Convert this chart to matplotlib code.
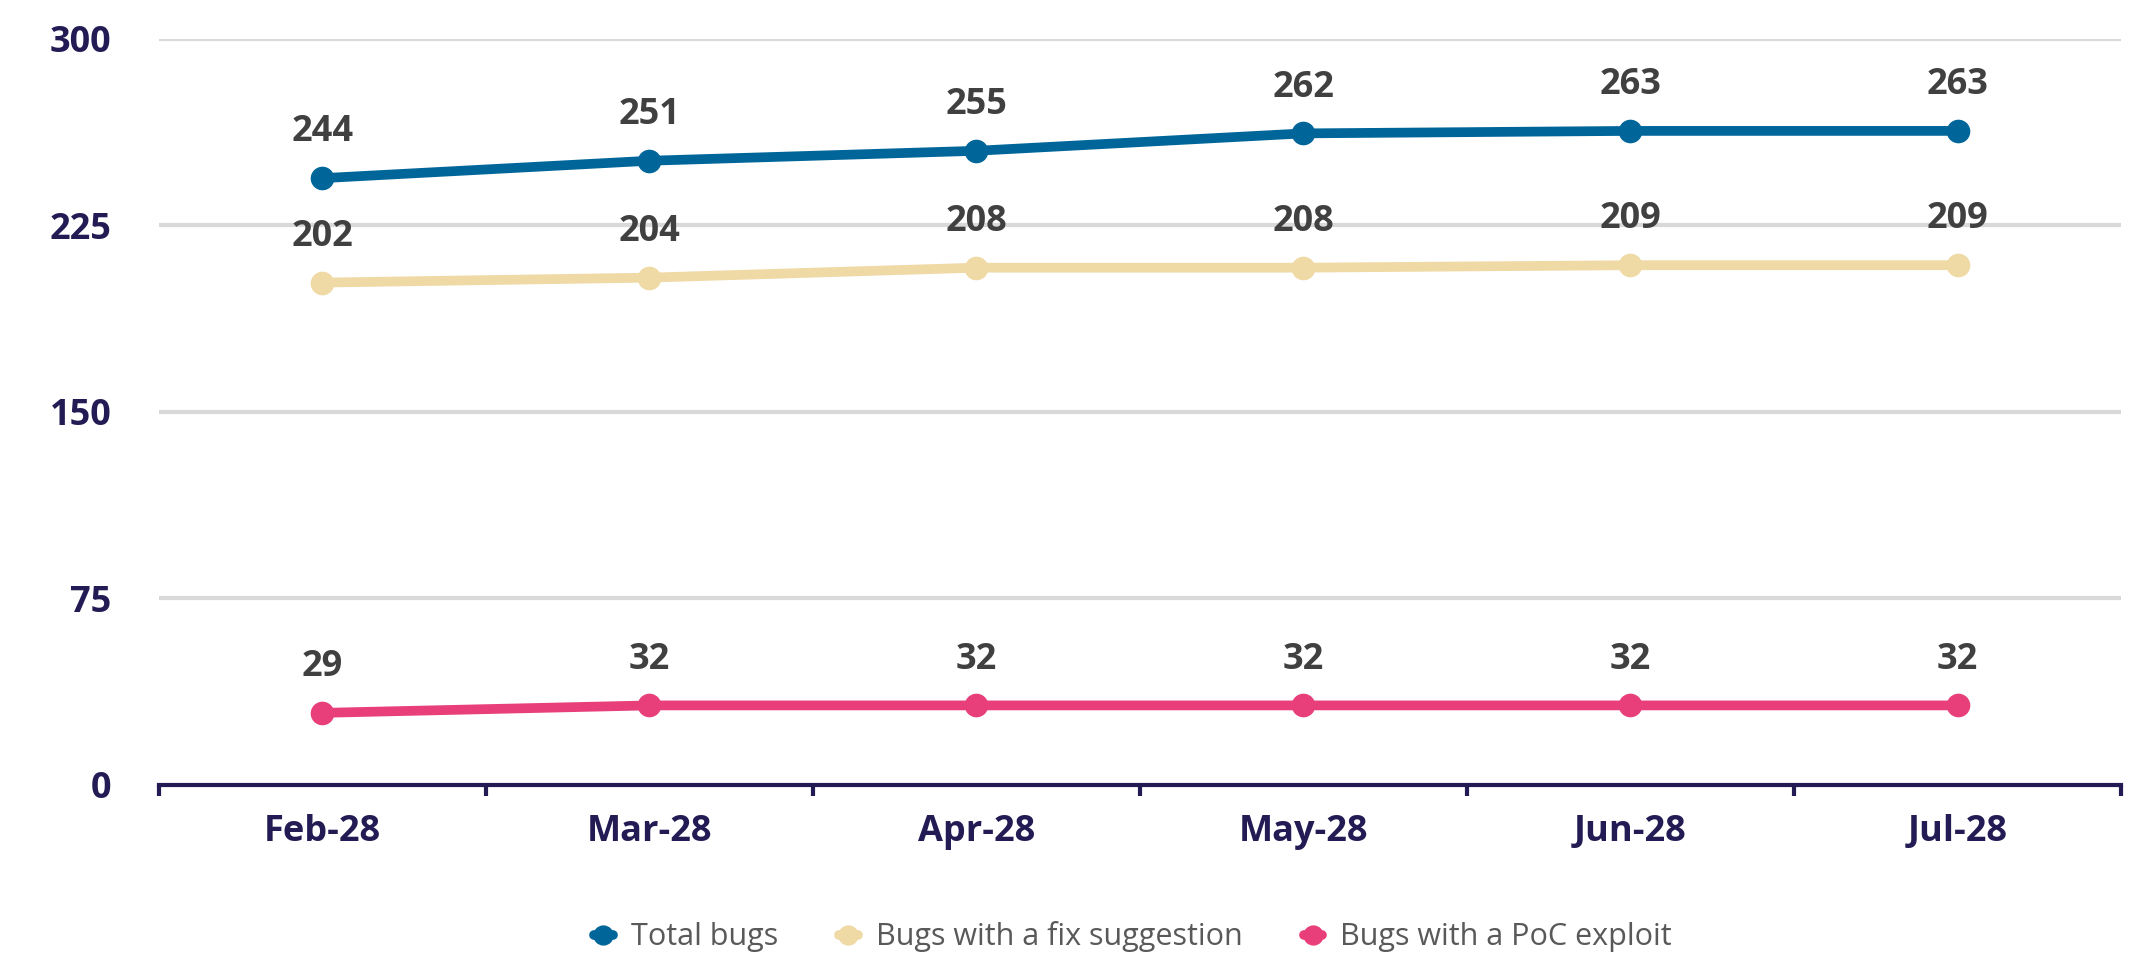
import matplotlib.pyplot as plt
from matplotlib.ticker import FixedLocator

plt.rcParams['font.family'] = ['Open Sans', 'DejaVu Sans']

months = ["Feb-28", "Mar-28", "Apr-28", "May-28", "Jun-28", "Jul-28"]
total_bugs = [244, 251, 255, 262, 263, 263]
fix_suggestion = [202, 204, 208, 208, 209, 209]
poc_exploit = [29, 32, 32, 32, 32, 32]
y_ticks = [0, 75, 150, 225, 300]

series = [
    ("Total bugs", total_bugs, "#00669a"),
    ("Bugs with a fix suggestion", fix_suggestion, "#efd9a4"),
    ("Bugs with a PoC exploit", poc_exploit, "#e83e7a"),
]

navy = "#231c54"
label_grey = "#404040"

fig = plt.figure(figsize=(21.42, 9.72), dpi=100)
ax = fig.add_axes([0.0742, 0.1924, 0.916, 0.7676])

x = list(range(len(months)))
for name, vals, color in series:
    ax.plot(x, vals, color=color, lw=7, marker="o", ms=16, label=name,
            solid_capstyle="round", zorder=3)
    for xi, v in zip(x, vals):
        ax.annotate(str(v), (xi, v), xytext=(0, 33), textcoords="offset points",
                    ha="center", va="center", fontsize=26, fontweight="bold",
                    color=label_grey, zorder=4)

ax.set_xlim(-0.5, len(months) - 0.5)
ax.set_ylim(0, 300)
ax.set_yticks(y_ticks)
ax.set_yticklabels([str(t) for t in y_ticks])
ax.set_xticks(x)
ax.set_xticklabels(months)
ax.xaxis.set_minor_locator(FixedLocator([i - 0.5 for i in range(len(months) + 1)]))

for t in y_ticks[1:]:
    ax.axhline(t, color="#d9d9d9", lw=3, zorder=1)

for s in ["top", "right", "left"]:
    ax.spines[s].set_visible(False)
ax.spines["bottom"].set_color(navy)
ax.spines["bottom"].set_linewidth(3)

ax.tick_params(axis="y", length=0, pad=34, labelsize=26, labelcolor=navy)
ax.tick_params(axis="x", which="major", length=0, pad=21, labelsize=26, labelcolor=navy)
ax.tick_params(axis="x", which="minor", length=8, width=3, color=navy)
for lbl in ax.get_xticklabels() + ax.get_yticklabels():
    lbl.set_fontweight("bold")

fig.legend(loc="lower center", bbox_to_anchor=(0.529, -0.008), ncol=3, frameon=False,
           fontsize=22, labelcolor="#595959", handlelength=0.6, handletextpad=0.6,
           columnspacing=2.0, markerscale=0.85)

fig.savefig("out.png", dpi=100, facecolor="white")
